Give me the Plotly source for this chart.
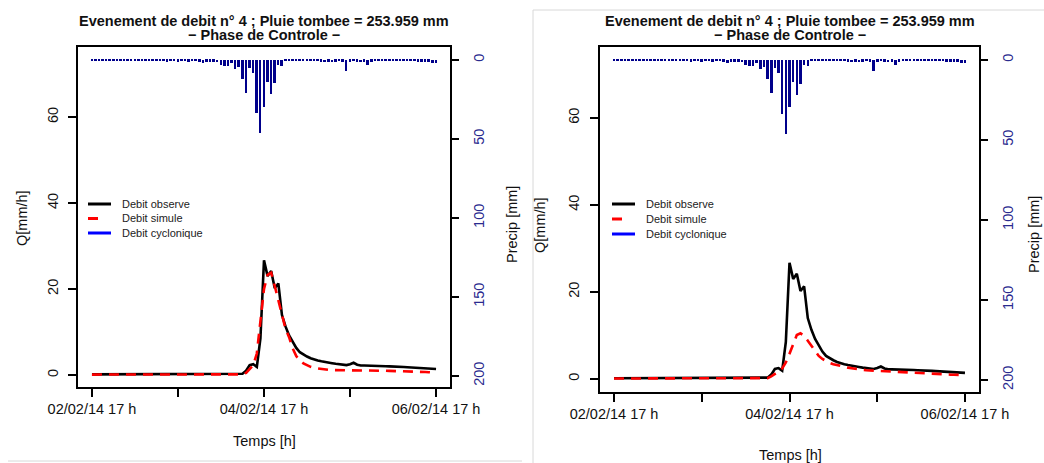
import plotly.graph_objects as go

# ---------------- data ----------------
hours = list(range(0, 97))  # hours since 02/02/14 17 h
tick_hours = [0, 24, 48, 72, 96]
tick_labels = ["02/02/14 17 h", "", "04/02/14 17 h", "", "06/02/14 17 h"]

precip = [
    0.8, 0.8, 0.8, 0.8, 0.8, 0.8, 0.8, 0.8, 0.8, 0.8,
    0.8, 0.8, 0.8, 0.8, 0.8, 0.8, 0.8, 0.8, 0.8, 0.8,
    0.8, 1.0, 0.8, 0.8, 1.0, 0.8, 0.8, 1.0, 0.8, 0.8,
    1.0, 2.0, 1.2, 1.0, 1.2, 1.5, 3.1, 3.8, 3.6, 2.1,
    5.8, 4.2, 12.2, 20.7, 5.0, 8.0, 33.7, 46.3, 29.5, 14.0,
    21.7, 14.8, 3.4, 3.7, 0.8, 0.8, 0.8, 0.8, 0.8, 0.8,
    0.8, 0.8, 0.8, 0.8, 1.2, 1.5, 1.2, 1.5, 1.0, 0.8,
    1.0, 6.8, 1.0, 0.8, 1.2, 1.5, 1.2, 3.0, 1.0, 0.8,
    0.8, 0.8, 0.8, 0.8, 0.8, 0.8, 0.8, 0.8, 0.8, 0.8,
    0.8, 1.0, 1.2, 1.0, 1.2, 2.0, 2.0,
]

q_obs = [
    0.15, 0.15, 0.15, 0.15, 0.15, 0.15, 0.15, 0.15, 0.15, 0.15,
    0.15, 0.15, 0.15, 0.15, 0.15, 0.15, 0.15, 0.15, 0.15, 0.15,
    0.15, 0.15, 0.15, 0.15, 0.15, 0.15, 0.15, 0.15, 0.15, 0.15,
    0.15, 0.15, 0.15, 0.15, 0.15, 0.15, 0.15, 0.15, 0.15, 0.15,
    0.15, 0.2, 0.3, 1.0, 2.3, 2.5, 1.9, 8.5, 26.7, 23.0,
    24.2, 20.2, 21.3, 14.0, 11.3, 9.2, 7.6, 6.3, 5.3, 4.7,
    4.3, 3.9, 3.6, 3.4, 3.2, 3.0, 2.9, 2.75, 2.6, 2.5,
    2.4, 2.3, 2.5, 2.85, 2.4, 2.2, 2.2, 2.2, 2.2, 2.2,
    2.15, 2.1, 2.05, 2.0, 2.0, 1.95, 1.9, 1.85, 1.8, 1.75,
    1.7, 1.65, 1.6, 1.55, 1.5, 1.45, 1.4,
]

q_sim_a = [
    0.1, 0.1, 0.1, 0.1, 0.1, 0.1, 0.1, 0.1, 0.1, 0.1,
    0.1, 0.1, 0.1, 0.1, 0.1, 0.1, 0.1, 0.1, 0.1, 0.1,
    0.1, 0.1, 0.1, 0.1, 0.1, 0.1, 0.1, 0.1, 0.1, 0.1,
    0.1, 0.1, 0.1, 0.1, 0.1, 0.1, 0.1, 0.1, 0.1, 0.1,
    0.1, 0.1, 0.15, 0.5, 1.3, 2.3, 5.0, 12.5, 20.0, 23.3,
    23.8, 20.7, 17.3, 14.0, 10.8, 8.8, 6.2, 4.4, 3.4, 2.7,
    2.2, 1.9, 1.65, 1.5, 1.4, 1.3, 1.2, 1.15, 1.15, 1.15,
    1.15, 1.15, 1.15, 1.15, 1.15, 1.1, 1.1, 1.05, 1.05, 1.0,
    1.0, 1.0, 0.98, 0.96, 0.95, 0.93, 0.92, 0.9, 0.87, 0.84,
    0.8, 0.77, 0.73, 0.7, 0.65, 0.6, 0.55,
]

q_sim_b = [
    0.1, 0.1, 0.1, 0.1, 0.1, 0.1, 0.1, 0.1, 0.1, 0.1,
    0.1, 0.1, 0.1, 0.1, 0.1, 0.1, 0.1, 0.1, 0.1, 0.1,
    0.1, 0.1, 0.1, 0.1, 0.1, 0.1, 0.1, 0.1, 0.1, 0.1,
    0.1, 0.1, 0.1, 0.1, 0.1, 0.1, 0.1, 0.1, 0.1, 0.1,
    0.1, 0.1, 0.2, 0.6, 1.1, 1.7, 2.4, 3.8, 5.8, 8.0,
    10.1, 10.5, 9.9, 8.8, 7.6, 6.3, 5.3, 4.6, 4.1, 3.7,
    3.4, 3.15, 3.0, 2.8, 2.6, 2.45, 2.3, 2.2, 2.1, 2.0,
    1.95, 1.9, 1.85, 1.8, 1.75, 1.7, 1.68, 1.65, 1.6, 1.55,
    1.5, 1.45, 1.4, 1.35, 1.3, 1.25, 1.2, 1.18, 1.15, 1.12,
    1.1, 1.05, 1.0, 0.98, 0.95, 0.92, 0.9,
]

legend_labels = ["Debit observe", "Debit simule", "Debit cyclonique"]
title_1 = "Evenement de debit n° 4 ; Pluie tombee = 253.959 mm"
title_2 = "\u2212 Phase de Controle \u2212"

# ---------------- layout helpers ----------------
W, H = 1044, 463
def px(x):
    return x / W
def py(y):
    return 1 - y / H

FONT = "Liberation Sans, Arial, Helvetica, sans-serif"
NAVY = "#00008B"
LABEL_NAVY = "#2a2a8e"

fig = go.Figure()

panels = [
    dict(xa="x", ya="y", ya2="y2", sim=q_sim_a),
    dict(xa="x2", ya="y3", ya2="y4", sim=q_sim_b),
]
for p in panels:
    fig.add_trace(go.Bar(x=hours, y=precip, xaxis=p["xa"], yaxis=p["ya2"],
                         marker=dict(color=NAVY, line=dict(width=0)),
                         width=0.7, showlegend=False))
    fig.add_trace(go.Scatter(x=hours, y=q_obs, xaxis=p["xa"], yaxis=p["ya"],
                             mode="lines", line=dict(color="black", width=2.6),
                             showlegend=False))
    fig.add_trace(go.Scatter(x=hours, y=p["sim"], xaxis=p["xa"], yaxis=p["ya"],
                             mode="lines",
                             line=dict(color="#FF0000", width=2.6, dash="10px,7px"),
                             showlegend=False))

xcommon = dict(range=[-3.84, 99.84], tickvals=tick_hours, ticktext=tick_labels,
               showline=True, mirror=True, linecolor="black", linewidth=1.5,
               ticks="outside", ticklen=8, tickwidth=1.5, tickcolor="black",
               showgrid=False, zeroline=False, automargin=False,
               tickfont=dict(family=FONT, size=14.5, color="#111"))
ycommon = dict(tickvals=[0, 20, 40, 60], showline=True, mirror=True,
               linecolor="black", linewidth=1.5, ticks="outside", ticklen=8,
               tickwidth=1.5, tickcolor="black", showgrid=False, zeroline=False,
               automargin=False, ticklabelstandoff=5,
               tickangle=-90, tickfont=dict(family=FONT, size=14.5, color="#111"))
pcommon = dict(tickvals=[0, 50, 100, 150, 200], showline=False, side="right",
               ticks="outside", ticklen=8, tickwidth=1.5, tickcolor="black",
               showgrid=False, zeroline=False, tickangle=-90, automargin=False,
               ticklabelstandoff=8,
               tickfont=dict(family=FONT, size=14.5, color=LABEL_NAVY))

fig.update_layout(
    width=W, height=H, margin=dict(l=0, r=0, t=0, b=0, autoexpand=False),
    paper_bgcolor="white", plot_bgcolor="white", showlegend=False,
    bargap=0,
    xaxis=dict(domain=[px(78.2), px(449.8)], anchor="y", **xcommon),
    yaxis=dict(domain=[py(387), py(47)], anchor="x", range=[-2.79, 76.3], **ycommon),
    yaxis2=dict(overlaying="y", anchor="x", range=[207.0, -8.2], **pcommon),
    xaxis2=dict(domain=[px(600), px(979)], anchor="y3", **xcommon),
    yaxis3=dict(domain=[py(392), py(47)], anchor="x2", range=[-3.0, 76.3], **ycommon),
    yaxis4=dict(overlaying="y3", anchor="x2", range=[207.5, -8.1], **pcommon),
)

annotations = []
shapes = []

def text(x, y, s, size=14.5, bold=False, angle=0, xanchor="center", color="#111"):
    annotations.append(dict(
        x=px(x), y=py(y), xref="paper", yref="paper", text=("<b>%s</b>" % s) if bold else s,
        showarrow=False, xanchor=xanchor, yanchor="middle", textangle=angle,
        font=dict(family=FONT, size=size, color=color)))

def hline(x0, x1, y, color, width, dash=None):
    shapes.append(dict(type="line", xref="paper", yref="paper",
                       x0=px(x0), x1=px(x1), y0=py(y), y1=py(y),
                       line=dict(color=color, width=width, dash=dash)))

# left panel texts
text(264, 21, title_1, bold=True)
text(264, 35, title_2, bold=True)
text(22, 218, "Q[mm/h]", angle=-90)
text(512, 225, "Precip [mm]", angle=-90)
text(264, 441, "Temps [h]")
# right panel texts
text(790, 21, title_1, bold=True)
text(790, 35, title_2, bold=True)
text(540, 225, "Q[mm/h]", angle=-90)
text(1034, 235, "Precip [mm]", angle=-90)
text(790, 455, "Temps [h]")

# manual legends
legend_styles = [("black", 23), ("#FF0000", 10), ("#0000FF", 23)]
for (lx, ly0, dy) in [(88, 204, 14.5), (612, 204, 15)]:
    for i, (lab, (col, ln)) in enumerate(zip(legend_labels, legend_styles)):
        yy = ly0 + i * dy
        hline(lx, lx + ln, yy, col, 3)
        text(lx + 32, yy, lab, size=11, xanchor="left", color="#222")

# screenshot frame lines
shapes.append(dict(type="line", xref="paper", yref="paper", x0=px(8), x1=px(522),
                   y0=py(461), y1=py(461), line=dict(color="#d8d8d8", width=1)))
shapes.append(dict(type="line", xref="paper", yref="paper", x0=px(533), x1=px(533),
                   y0=py(10), y1=py(463), line=dict(color="#d8d8d8", width=1)))
shapes.append(dict(type="line", xref="paper", yref="paper", x0=px(533), x1=px(1044),
                   y0=py(10), y1=py(10), line=dict(color="#d8d8d8", width=1)))

fig.update_layout(annotations=annotations, shapes=shapes)
fig.write_html("out.html")
